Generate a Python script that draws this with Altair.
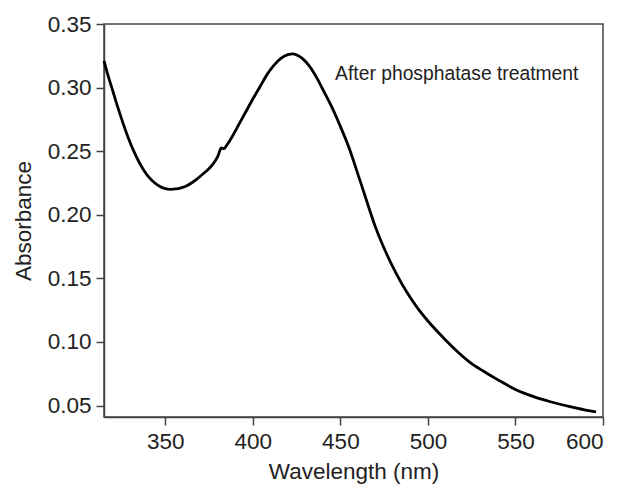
import altair as alt
import pandas as pd

wavelength = [315, 317, 320, 323, 326, 329, 332, 335, 338, 341, 344, 347, 350, 353, 356, 359,
              362, 365, 368, 371, 374, 377, 380, 382, 383.5, 385, 388, 392, 396, 400, 404, 408,
              412, 416, 420, 423, 426, 429, 432, 436, 440, 445, 450, 455, 460, 465, 470, 476,
              482, 488, 494, 500, 508, 516, 524, 532, 540, 550, 560, 570, 580, 590, 596]
absorbance = [0.321, 0.311, 0.2975, 0.284, 0.2715, 0.260, 0.250, 0.2415, 0.2345, 0.2290, 0.2250,
              0.2222, 0.2205, 0.2200, 0.2203, 0.2212, 0.2227, 0.2250, 0.2280, 0.2315, 0.2350,
              0.2395, 0.2460, 0.2525, 0.2520, 0.2545, 0.2610, 0.2710, 0.2810, 0.2910, 0.3005,
              0.3100, 0.3175, 0.3230, 0.3260, 0.3265, 0.3250, 0.3220, 0.3175, 0.3090, 0.2985,
              0.2850, 0.2695, 0.2525, 0.2320, 0.2110, 0.1905, 0.1705, 0.1535, 0.1390, 0.1268,
              0.1165, 0.1045, 0.0935, 0.0840, 0.0768, 0.0702, 0.0627, 0.0572, 0.0530, 0.0495,
              0.0465, 0.0451]

x_ticks = [350, 400, 450, 500, 550, 600]
y_ticks = [0.05, 0.10, 0.15, 0.20, 0.25, 0.30, 0.35]

label_text = ["After phosphatase treatment"]
label_x = [447]
label_y = [0.306]

df = pd.DataFrame({"wavelength": wavelength, "absorbance": absorbance})
lab = pd.DataFrame({"x": label_x, "y": label_y, "t": label_text})

FONT = "Liberation Sans"

x_scale = alt.Scale(domain=[315, 600], nice=False, zero=False)
y_scale = alt.Scale(domain=[0.041, 0.35], nice=False, zero=False)

line = alt.Chart(df).mark_line(color="black", strokeWidth=2.8, interpolate="monotone").encode(
    x=alt.X("wavelength:Q", scale=x_scale,
            axis=alt.Axis(title="Wavelength (nm)", values=x_ticks, format="d",
                          grid=False, tickSize=8, labelPadding=5, titlePadding=8,
                          labelFontSize=22.5, titleFontSize=22.5, labelFont=FONT, titleFont=FONT,
                          labelColor="#222", titleColor="#222", titleFontWeight="normal",
                          domainColor="#444", tickColor="#444", domainWidth=1.5, tickWidth=1.5)),
    y=alt.Y("absorbance:Q", scale=y_scale,
            axis=alt.Axis(title="Absorbance", values=y_ticks, format=".2f",
                          grid=False, tickSize=8, labelPadding=5, titlePadding=12,
                          labelFontSize=22.5, titleFontSize=22.5, labelFont=FONT, titleFont=FONT,
                          labelColor="#222", titleColor="#222", titleFontWeight="normal",
                          domainColor="#444", tickColor="#444", domainWidth=1.5, tickWidth=1.5)),
)

text = alt.Chart(lab).mark_text(align="left", baseline="alphabetic", fontSize=19.3, font=FONT,
                                color="#222").encode(
    x=alt.X("x:Q", scale=x_scale),
    y=alt.Y("y:Q", scale=y_scale),
    text="t:N",
)

chart = (line + text).properties(
    width=499, height=393,
    autosize=alt.AutoSizeParams(type="none"),
    padding={"left": 96, "top": 16, "right": 14, "bottom": 69},
).configure_view(stroke="#444", strokeWidth=1.5)

chart.save("out.html", embed_options={"renderer": "svg", "actions": False})
